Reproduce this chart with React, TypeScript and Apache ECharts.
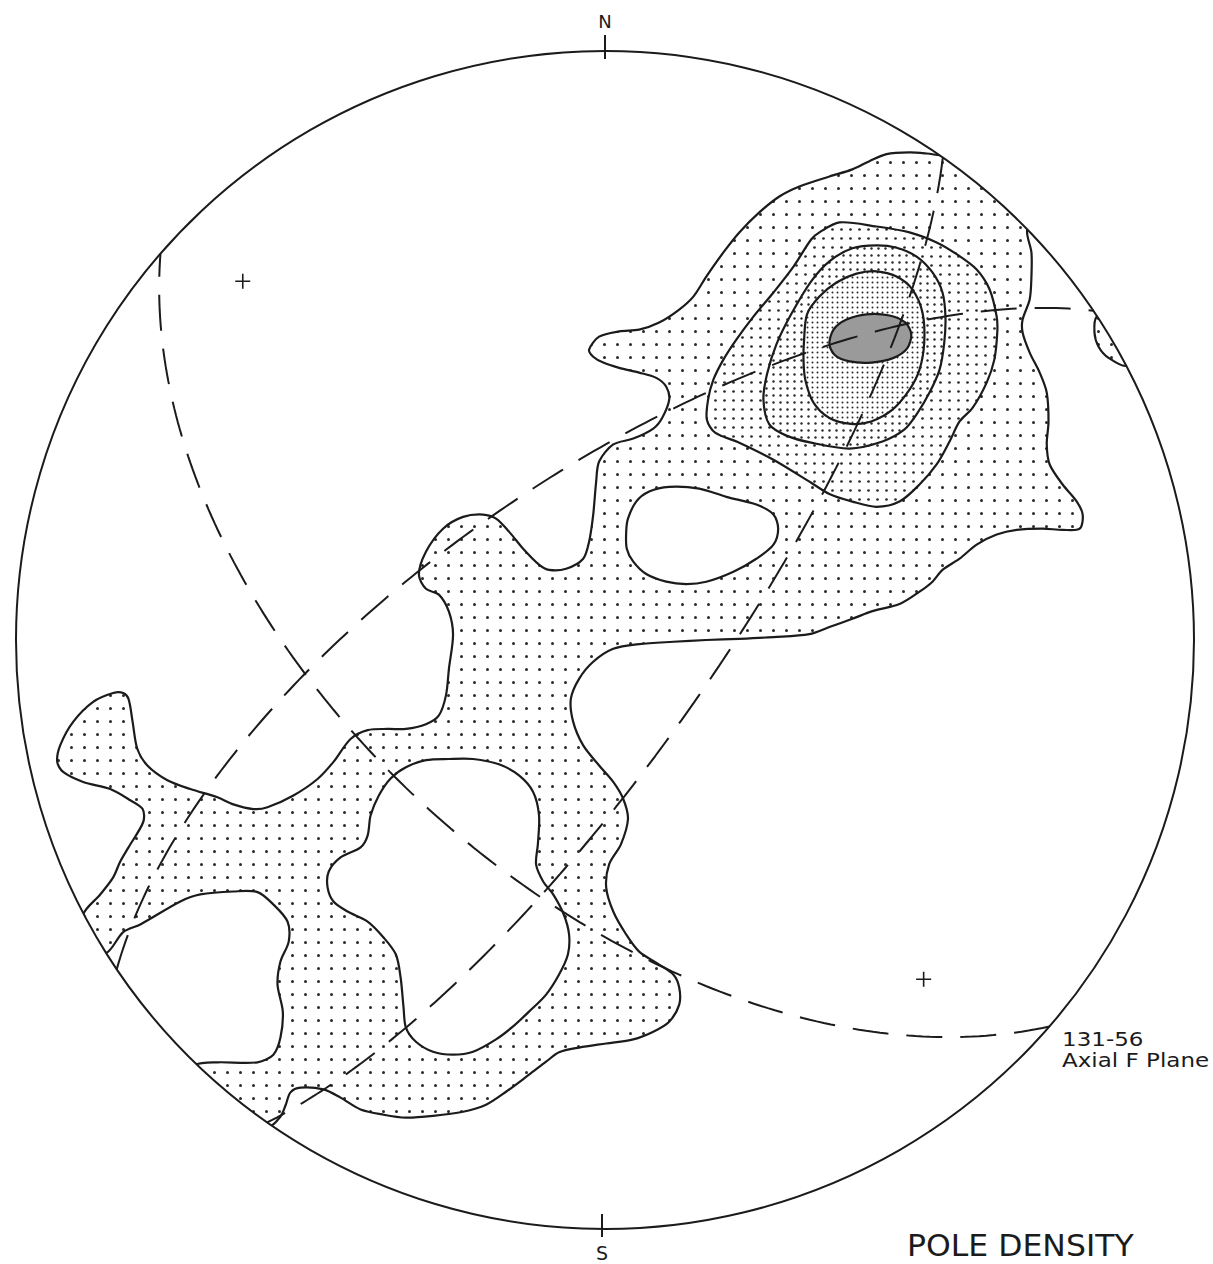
import React, { useEffect, useRef } from "react";
import * as echarts from "echarts";

type Pt = [number, number];

// Lower-hemisphere equal-area net. Coordinates: x = east, y = north, primitive radius = 100.

// Lowest contour (outermost dotted area). Stretches past the primitive where it is cut by it.
const densityLevel1: Pt[] = [
  [-2.7, 49.3], [-1.0, 51.5], [2.4, 52.4], [5.8, 52.7], [9.2, 53.9], [12.6, 56.1], [15.0, 58.3],
  [17.2, 61.7], [20.1, 65.8], [22.8, 69.2], [26.2, 72.6], [29.6, 75.3], [33.0, 77.0], [38.1, 78.7],
  [42.0, 79.9], [44.9, 81.3], [47.8, 82.5], [51.7, 82.8], [54.6, 82.6], [56.8, 82.3], [63.1, 81.6],
  [69.0, 76.5], [74.1, 70.6], [71.7, 69.7], [72.4, 65.8], [72.4, 61.7], [72.1, 57.8], [70.9, 54.4],
  [70.9, 52.2], [72.1, 48.8], [73.8, 45.4], [75.0, 42.0], [75.3, 37.1], [75.0, 33.2], [75.5, 29.8],
  [77.7, 26.4], [80.1, 23.5], [81.1, 21.3], [80.6, 18.9], [77.7, 18.7], [74.3, 18.9], [69.9, 18.7],
  [66.5, 17.9], [63.1, 16.2], [60.2, 13.8], [57.3, 11.9], [55.6, 9.9], [53.4, 8.2], [50.0, 6.1],
  [45.4, 4.9], [42.0, 3.6], [38.1, 2.2], [34.7, 1.0], [28.6, 0.5], [22.8, 0.2], [17.2, 0.0],
  [11.6, -0.3], [5.8, -0.7], [1.4, -1.5], [-2.0, -3.7], [-4.4, -6.6], [-5.8, -10.0], [-5.4, -13.9],
  [-3.7, -17.9], [-1.0, -21.3], [1.4, -24.1], [3.1, -27.0], [3.9, -30.4], [2.7, -34.7], [0.7, -38.1],
  [0.2, -42.0], [1.4, -46.1], [3.6, -50.0], [5.8, -52.9], [9.2, -55.1], [11.6, -56.8], [12.6, -59.0],
  [12.6, -61.9], [10.9, -64.8], [8.2, -66.5], [4.8, -67.8], [0.2, -68.5], [-4.4, -69.2], [-7.8, -70.0],
  [-10.0, -71.6], [-12.9, -73.8], [-16.8, -76.7], [-20.2, -78.9], [-24.1, -80.1], [-29.2, -80.8],
  [-33.8, -81.1], [-37.6, -80.6], [-41.5, -79.7], [-44.9, -77.7], [-47.8, -76.3], [-51.7, -76.0],
  [-53.4, -76.8], [-54.2, -78.9], [-55.1, -80.9], [-57.1, -82.6], [-63.6, -79.9], [-70.4, -74.0],
  [-69.5, -72.1], [-65.8, -71.7], [-59.0, -71.7], [-56.3, -70.4], [-55.1, -67.5], [-54.7, -63.1],
  [-55.6, -58.5], [-55.1, -54.6], [-53.7, -51.2], [-53.9, -47.8], [-56.3, -44.9], [-59.0, -42.8],
  [-63.1, -42.7], [-68.7, -43.2], [-72.1, -44.4], [-78.9, -48.3], [-81.8, -49.6], [-84.8, -53.2],
  [-88.2, -51.0], [-88.6, -46.6], [-85.7, -43.2], [-83.5, -40.3], [-82.3, -37.6], [-80.9, -35.2],
  [-78.4, -30.9], [-78.5, -28.7], [-80.6, -27.2], [-84.0, -25.3], [-88.6, -24.1], [-92.0, -22.4],
  [-93.0, -20.7], [-92.5, -17.9], [-90.3, -13.9], [-86.9, -10.5], [-83.5, -9.0], [-81.8, -9.0],
  [-80.9, -10.0], [-80.2, -13.9], [-79.4, -18.5], [-77.7, -21.3], [-74.3, -23.8], [-70.4, -25.3],
  [-65.8, -26.7], [-63.1, -27.9], [-59.7, -28.7], [-57.3, -28.4], [-52.9, -26.4], [-48.8, -23.6],
  [-46.1, -20.7], [-43.2, -16.8], [-40.3, -15.3], [-36.9, -15.1], [-33.8, -15.1], [-30.4, -14.3],
  [-28.2, -12.8], [-27.0, -9.4], [-26.5, -4.9], [-25.8, 0.9], [-26.5, 4.8], [-28.2, 7.7], [-30.4, 8.7],
  [-31.6, 11.1], [-30.4, 15.0], [-27.5, 18.9], [-24.1, 20.9], [-20.7, 21.3], [-18.5, 20.6],
  [-16.3, 18.4], [-13.9, 15.5], [-11.2, 12.8], [-9.5, 11.9], [-6.6, 12.1], [-3.7, 13.8], [-2.7, 16.7],
  [-2.0, 21.3], [-1.5, 26.9], [-1.0, 30.3], [1.4, 33.2], [4.8, 34.2], [8.2, 35.9], [9.7, 37.7],
  [10.9, 40.8], [10.4, 43.0], [8.7, 44.5], [5.8, 45.4], [2.4, 46.2], [-0.3, 47.1], [-2.0, 48.1],
];

// Small piece of the lowest contour on the eastern edge
const densityLevel1East: Pt[] = [
  [83.5, 54.9], [83.1, 52.2], [83.8, 49.8], [85.5, 47.9], [88.6, 46.6], [91.1, 51.0], [86.9, 56.1],
];

// Empty areas enclosed by the lowest contour
const emptyNorth: Pt[] = [
  [3.6, 18.4], [3.9, 20.6], [5.3, 23.5], [7.5, 25.2], [10.9, 26.0], [16.0, 25.7], [20.6, 24.3],
  [25.7, 23.0], [28.6, 21.3], [29.4, 18.9], [28.6, 16.2], [25.7, 13.8], [21.8, 11.6], [17.2, 9.9],
  [13.8, 9.5], [10.4, 9.9], [7.0, 11.2], [4.8, 13.3], [3.7, 15.5],
];
const emptySouth: Pt[] = [
  [-33.8, -21.6], [-30.4, -20.4], [-26.5, -20.2], [-22.4, -20.2], [-18.0, -21.1], [-14.6, -23.0],
  [-12.2, -25.8], [-11.2, -29.8], [-11.4, -34.7], [-11.7, -38.1], [-10.5, -41.0], [-8.8, -43.2],
  [-7.0, -46.6], [-6.1, -50.0], [-6.3, -53.4], [-7.8, -56.8], [-10.0, -60.2], [-12.9, -63.1],
  [-15.6, -65.6], [-18.5, -67.8], [-22.4, -69.9], [-25.8, -70.4], [-29.2, -69.9], [-32.1, -68.2],
  [-33.8, -65.8], [-34.2, -62.4], [-34.7, -57.3], [-35.5, -53.4], [-37.6, -50.5], [-40.3, -47.8],
  [-43.7, -46.1], [-46.1, -44.4], [-47.1, -42.0], [-46.9, -39.3], [-44.9, -36.9], [-41.5, -35.2],
  [-40.3, -33.2], [-39.8, -29.8], [-38.4, -26.4], [-36.4, -23.5],
];

// Higher contours around the maximum
const densityLevel2: Pt[] = [
  [35.0, 68.0], [32.0, 63.4], [28.6, 59.0], [25.2, 54.9], [22.3, 51.0], [20.1, 47.6], [18.4, 44.2],
  [17.5, 40.8], [17.3, 37.4], [18.7, 35.2], [22.8, 33.5], [28.6, 30.6], [35.0, 26.7], [38.1, 24.8],
  [42.0, 23.5], [46.1, 22.6], [50.0, 23.5], [53.4, 26.4], [56.3, 29.8], [58.5, 33.7], [60.2, 37.1],
  [62.4, 39.4], [64.8, 43.7], [66.1, 47.6], [66.6, 52.2], [66.5, 54.9], [65.3, 59.5], [63.1, 62.9],
  [59.7, 65.5], [56.3, 67.5], [51.7, 69.2], [46.1, 70.2], [39.8, 70.9], [36.4, 69.2],
];
const densityLevel3: Pt[] = [
  [26.9, 40.8], [27.5, 45.1], [29.1, 50.2], [31.6, 55.3], [35.0, 60.9], [38.1, 64.3], [42.0, 66.5],
  [46.1, 67.0], [49.5, 66.6], [52.9, 65.1], [55.6, 62.4], [57.3, 59.0], [57.8, 54.9], [57.6, 50.5],
  [56.8, 45.9], [55.1, 42.0], [52.9, 38.3], [50.8, 35.7], [47.1, 33.7], [41.5, 32.5], [35.0, 33.5],
  [30.8, 34.7], [27.9, 36.6],
];
const densityLevel4: Pt[] = [
  [33.8, 51.0], [34.3, 55.3], [36.4, 58.3], [39.3, 60.7], [42.7, 62.2], [46.1, 62.6], [49.5, 61.7],
  [52.2, 59.5], [53.9, 55.6], [54.2, 50.5], [53.4, 45.9], [51.7, 42.5], [48.8, 39.1], [45.2, 37.1],
  [41.8, 36.7], [38.1, 37.7], [35.4, 40.3], [34.0, 44.2], [33.7, 47.6],
];
const densityMaximum: Pt[] = [
  [38.1, 50.2], [38.8, 52.7], [41.0, 54.4], [44.4, 55.3], [48.3, 55.1], [51.0, 53.9], [52.0, 51.9],
  [51.3, 49.5], [49.0, 47.9], [45.2, 47.1], [41.5, 47.3], [39.1, 48.3],
];

// Planes drawn as great circles (right-hand-rule strike, dip)
const planeStrikes = [131, 236, 35];
const planeDips = [56, 67, 75];
const planeNames = ["Axial F Plane", "", ""];

// Reference crosses
const crossMarks: Pt[] = [[-61.5, 60.9], [54.1, -57.6]];

const INK = "#1b1b1b";
const FONT = '"DejaVu Sans", "Liberation Sans", sans-serif';

// Equal-area projection of the lines lying in a plane
function greatCircle(strike: number, dip: number): Pt[] {
  const s = (strike * Math.PI) / 180;
  const d = (dip * Math.PI) / 180;
  const dd = s + Math.PI / 2;
  const sv = [Math.sin(s), Math.cos(s)];
  const dv = [Math.sin(dd) * Math.cos(d), Math.cos(dd) * Math.cos(d), -Math.sin(d)];
  const out: Pt[] = [];
  for (let a = 0; a <= 180; a += 1) {
    const t = (a * Math.PI) / 180;
    const vx = Math.cos(t) * sv[0] + Math.sin(t) * dv[0];
    const vy = Math.cos(t) * sv[1] + Math.sin(t) * dv[1];
    const vz = Math.sin(t) * dv[2];
    const k = 1 / Math.sqrt(1 - vz);
    out.push([vx * k * 100, vy * k * 100]);
  }
  return out;
}

function dotPattern(step: number, r: number, dot: string, bg: string) {
  const c = document.createElement("canvas");
  c.width = step;
  c.height = step;
  const ctx = c.getContext("2d")!;
  ctx.fillStyle = bg;
  ctx.fillRect(0, 0, step, step);
  ctx.fillStyle = dot;
  ctx.beginPath();
  ctx.arc(step / 2, step / 2, r, 0, Math.PI * 2);
  ctx.fill();
  return { image: c, repeat: "repeat", imageWidth: step, imageHeight: step } as any;
}

function areaSeries(name: string, ring: Pt[], fill: any, z: number) {
  return {
    type: "custom",
    name,
    z,
    silent: true,
    clip: false,
    data: ring,
    renderItem: (params: any, api: any) => {
      if (params.dataIndex !== 0) return null;
      return {
        type: "polygon",
        shape: { points: ring.map((p) => api.coord(p)), smooth: 0.3 },
        style: { fill, stroke: INK, lineWidth: 2.2, lineJoin: "round" },
      };
    },
  };
}

export default function App() {
  const ref = useRef<HTMLDivElement>(null);

  useEffect(() => {
    const chart = echarts.init(ref.current!, null, { renderer: "svg" });

    const level1Fill = dotPattern(13, 1.5, "#2a2a2a", "#ffffff");
    const level2Fill = dotPattern(9, 1.35, "#2a2a2a", "#ffffff");
    const level3Fill = dotPattern(7, 1.2, "#2a2a2a", "#ffffff");
    const level4Fill = dotPattern(5, 1.0, "#2a2a2a", "#ffffff");

    const circles = planeStrikes.map((s, i) => ({
      type: "line",
      name: `plane-${s}-${planeDips[i]}`,
      data: greatCircle(s, planeDips[i]),
      showSymbol: false,
      symbol: "none",
      silent: true,
      z: 7,
      lineStyle: { color: INK, width: 2, type: [36, 18] },
    }));

    const option: any = {
      animation: false,
      backgroundColor: "#ffffff",
      grid: { left: 16, top: 51, width: 1178, height: 1178 },
      xAxis: { type: "value", min: -100, max: 100, show: false },
      yAxis: { type: "value", min: -100, max: 100, show: false },
      series: [
        areaSeries("level-1", densityLevel1, level1Fill, 1),
        areaSeries("level-1-east", densityLevel1East, level1Fill, 1),
        areaSeries("empty-north", emptyNorth, "#ffffff", 2),
        areaSeries("empty-south", emptySouth, "#ffffff", 2),
        areaSeries("level-2", densityLevel2, level2Fill, 3),
        areaSeries("level-3", densityLevel3, level3Fill, 4),
        areaSeries("level-4", densityLevel4, level4Fill, 5),
        areaSeries("maximum", densityMaximum, "#9a9a9a", 6),
        ...circles,
        {
          // primitive circle, outside mask, N and S ticks
          type: "custom",
          name: "primitive",
          z: 8,
          silent: true,
          clip: false,
          data: [[0, 0]],
          renderItem: (_p: any, api: any) => {
            const c = api.coord([0, 0]);
            const r = api.size([100, 100])[0];
            return {
              type: "group",
              children: [
                { type: "ring", shape: { cx: c[0], cy: c[1], r0: r, r: r + 900 }, style: { fill: "#ffffff" } },
                { type: "circle", shape: { cx: c[0], cy: c[1], r }, style: { fill: "none", stroke: INK, lineWidth: 2 } },
                { type: "line", shape: { x1: c[0], y1: c[1] - r - 16, x2: c[0], y2: c[1] - r + 8 }, style: { stroke: INK, lineWidth: 2 } },
                { type: "line", shape: { x1: c[0] - 3, y1: c[1] + r - 15, x2: c[0] - 3, y2: c[1] + r + 8 }, style: { stroke: INK, lineWidth: 2 } },
                { type: "text", style: { text: "N", x: c[0], y: c[1] - r - 30, textAlign: "center", textVerticalAlign: "middle", fill: INK, font: `18px ${FONT}` } },
                { type: "text", style: { text: "S", x: c[0] - 3, y: c[1] + r + 24, textAlign: "center", textVerticalAlign: "middle", fill: INK, font: `19px ${FONT}` } },
              ],
            };
          },
        },
        {
          type: "scatter",
          name: "crosses",
          z: 9,
          silent: true,
          data: crossMarks,
          symbol: "path://M0,5L10,5M5,0L5,10",
          symbolSize: 15,
          itemStyle: { color: "transparent", borderColor: INK, borderWidth: 1.6, opacity: 1 },
        },
      ],
      graphic: [
        {
          type: "text",
          x: 1062,
          y: 1029,
          scaleX: 1.15,
          z: 10,
          style: { text: `${planeStrikes[0]}-${planeDips[0]}`, fill: INK, font: `20px ${FONT}`, textVerticalAlign: "top" },
        },
        {
          type: "text",
          x: 1062,
          y: 1050,
          scaleX: 1.15,
          z: 10,
          style: { text: planeNames[0], fill: INK, font: `20px ${FONT}`, textVerticalAlign: "top" },
        },
        {
          type: "text",
          x: 907,
          y: 1230,
          scaleX: 1.05,
          z: 10,
          style: { text: "POLE DENSITY", fill: INK, font: `30px ${FONT}`, textVerticalAlign: "top" },
        },
      ],
    };

    chart.setOption(option);
    return () => chart.dispose();
  }, []);

  return (
    <div
      ref={ref}
      style={{ position: "fixed", left: 0, top: 0, width: 1213, height: 1264, background: "#ffffff" }}
    />
  );
}
